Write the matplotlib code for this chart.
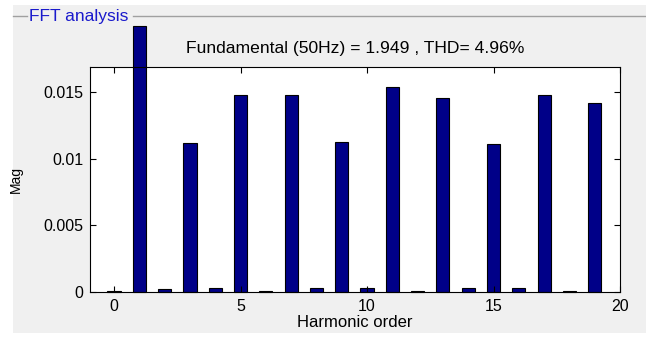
import matplotlib.pyplot as plt
from matplotlib.patches import Rectangle
from matplotlib.lines import Line2D

plt.rcParams['font.family'] = ['Liberation Sans', 'DejaVu Sans']

# harmonic magnitudes
orders = list(range(20))
mags = [0.0001, 0.0200, 0.0002, 0.0112, 0.0003, 0.0148, 0.0001, 0.0148, 0.0003, 0.0113,
        0.0003, 0.0154, 0.0001, 0.0146, 0.0003, 0.0111, 0.0003, 0.0148, 0.0001, 0.0142]
xticks = [0, 5, 10, 15, 20]
yticks = [0, 0.005, 0.01, 0.015]
yticklabels = ['0', '0.005', '0.01', '0.015']
title = 'Fundamental (50Hz) = 1.949 , THD= 4.96%'

W, H = 646, 338
fig = plt.figure(figsize=(W / 100, H / 100), dpi=100, facecolor='white')

# grey uipanel background and its titled border
fig.patches.append(Rectangle((13 / W, 5 / H), 1 - 13 / W, 328 / H, transform=fig.transFigure,
                             facecolor='#f0f0f0', edgecolor='none', zorder=-5))
yl = 1 - 16 / H
fig.lines.append(Line2D([13 / W, 27 / W], [yl, yl], transform=fig.transFigure, color='#a0a0a0', lw=1))
fig.lines.append(Line2D([133 / W, 1], [yl, yl], transform=fig.transFigure, color='#a0a0a0', lw=1))
fig.text(29 / W, yl, 'FFT analysis', color='#1a1acc', fontsize=12.5, va='center', ha='left')

ax = fig.add_axes([90 / W, 1 - 292 / H, 530 / W, 225 / H])
ax.set_facecolor('white')
bars = ax.bar(orders, mags, width=0.52, color='#000088', edgecolor='black', linewidth=0.8)
for b in bars:
    b.set_clip_on(False)

ax.set_xlim(-0.95, 20)
ax.set_ylim(0, 0.0169)
ax.set_xticks(xticks)
ax.set_yticks(yticks)
ax.set_yticklabels(yticklabels)
ax.tick_params(direction='in', top=True, right=True, length=4, labelsize=11.5, width=0.8, pad=5)
for s in ax.spines.values():
    s.set_linewidth(0.8)
ax.set_xlabel('Harmonic order', fontsize=12, labelpad=1)
ax.set_ylabel('Mag', fontsize=10)
ax.yaxis.set_label_coords(-(90 - 23) / 530, 0.5)
ax.set_title(title, fontsize=12.6, pad=10)

fig.savefig('out.png', dpi=100)
